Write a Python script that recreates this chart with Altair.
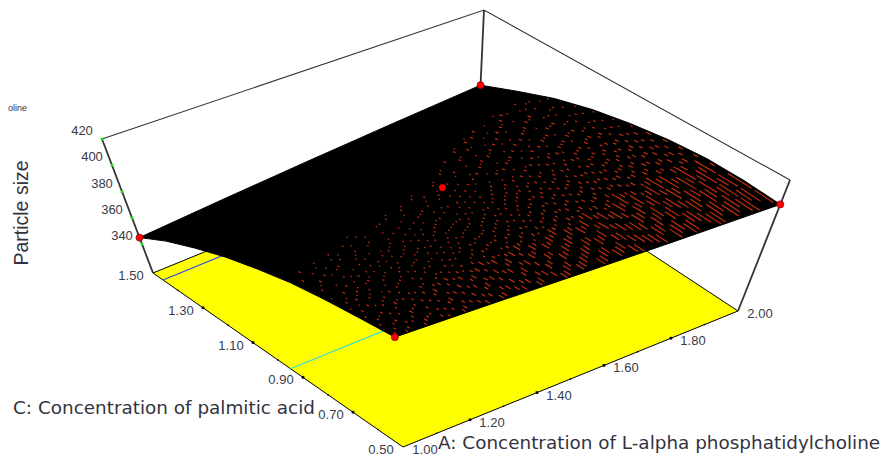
import altair as alt
import pandas as pd
import numpy as np

# ---- chart values ----
A_TICKS = [1.00, 1.20, 1.40, 1.60, 1.80, 2.00]
C_TICKS = [0.50, 0.70, 0.90, 1.10, 1.30, 1.50]
Z_TICKS = [340, 360, 380, 400, 420]
A_GRID = [1.00, 1.25, 1.50, 1.75, 2.00]
C_GRID = [0.500, 0.625, 0.750, 0.875, 1.000, 1.125, 1.250, 1.375, 1.500]
Z_SURFACE = [
    [401.0, 399.0, 396.6, 393.0, 387.0, 379.7, 370.0, 358.8, 345.0],
    [401.0, 399.8, 397.5, 393.8, 388.0, 381.0, 372.0, 361.8, 349.0],
    [400.5, 401.0, 400.0, 397.0, 392.0, 385.8, 377.0, 366.0, 353.0],
    [400.5, 402.0, 402.0, 399.5, 395.0, 389.0, 381.0, 370.0, 357.0],
    [401.0, 403.0, 403.5, 401.5, 397.6, 392.0, 384.0, 373.0, 361.0],
]
DESIGN_A = [1.0, 2.0, 1.0, 2.0, 1.5]
DESIGN_C = [0.5, 0.5, 1.5, 1.5, 1.0]
DESIGN_Z = [401, 401, 345, 361, 399]
CYAN_A = [1.0, 1.5]
CYAN_C = [0.95, 0.95]
BLUE_A = [1.0, 1.5]
BLUE_C = [1.46, 1.46]
ZMIN, ZMAX = 318, 420

# mesh highlights on the surface: (A, dash length, C starts), C in thousandths
DASHES = [
    (1.025, 8, [530, 590, 645, 702, 790, 860]), (1.05, 10, [515, 560, 610, 660, 700, 745, 830, 905]),
    (1.075, 8, [535, 583, 640, 688, 733, 771, 850]), (1.10, 13, [520, 572, 628]), (1.10, 6, [671, 723, 778, 815, 880, 925]),
    (1.125, 8, [541, 596, 636, 685, 760, 795, 868]), (1.15, 10, [508, 548, 603]), (1.15, 6, [652, 694, 741, 802, 897, 940]),
    (1.175, 10, [527, 578, 631]), (1.175, 6, [716, 768, 820, 872]), (1.20, 16, [515, 566, 621]), (1.20, 6, [668, 705, 752, 781, 826, 910, 955]),
    (1.225, 13, [531, 586, 642]), (1.225, 6, [730, 791, 845]), (1.25, 16, [505, 553, 604, 650]), (1.25, 6, [690, 731, 768, 812, 857, 928, 975]),
    (1.275, 16, [528, 581, 633]), (1.275, 6, [677, 749, 798, 836, 884]), (1.30, 18, [512, 570, 618]), (1.30, 6, [662, 699, 736, 785, 820, 872, 945]),
    (1.325, 18, [533, 589, 640]), (1.325, 6, [721, 762, 808, 851, 897, 990]), (1.35, 20, [508, 552, 607, 658]), (1.35, 6, [702, 741, 770, 825, 868, 915, 1000]),
    (1.375, 21, [529, 590, 646]), (1.375, 6, [688, 730, 777, 815, 860, 934]), (1.40, 24, [516, 575, 628]), (1.40, 6, [671, 713, 752, 796, 843, 890, 951, 1012]),
    (1.425, 24, [536, 597, 650]), (1.425, 6, [695, 731, 772, 819, 862, 908, 970]), (1.45, 24, [503, 556, 615, 666]), (1.45, 6, [708, 749, 790, 838, 871, 925, 982, 1040]),
    (1.475, 26, [526, 592, 645]), (1.475, 7, [692, 735, 781, 825, 883, 945, 1028]), (1.50, 28, [512, 572, 631]), (1.50, 7, [679, 722, 768, 806, 850, 902, 945, 1010]),
    (1.525, 28, [534, 596, 652]), (1.525, 7, [698, 740, 782, 828, 872, 918, 968, 1062]), (1.55, 31, [505, 560, 618, 673]), (1.55, 7, [715, 758, 797, 842, 888, 931, 982, 1045]),
    (1.575, 31, [530, 592, 650]), (1.575, 8, [705, 748, 791, 835, 878, 922, 1005, 1102]), (1.60, 34, [514, 578, 640]), (1.60, 8, [690, 735, 776, 822, 868, 905, 958, 1020, 1085]),
    (1.625, 34, [536, 600, 660]), (1.625, 9, [712, 756, 801, 845, 892, 940, 1038, 1150]), (1.65, 36, [503, 565, 626, 682]), (1.65, 9, [726, 768, 812, 850, 898, 945, 1002, 1060, 1130]),
    (1.675, 39, [534, 598, 660]), (1.675, 10, [715, 762, 808, 853, 901, 950, 1010, 1085, 1180]), (1.70, 42, [516, 580, 645]), (1.70, 10, [697, 742, 788, 831, 875, 921, 968, 1032, 1095, 1165]),
    (1.725, 44, [536, 604, 668]), (1.725, 10, [722, 768, 812, 855, 904, 982, 1052, 1120, 1205]), (1.75, 44, [505, 570, 632, 690]), (1.75, 10, [736, 781, 823, 864, 908, 957, 1010, 1075, 1140, 1215]),
    (1.775, 47, [530, 602, 670]), (1.775, 11, [725, 774, 817, 860, 928, 984, 1040, 1098, 1160, 1240]), (1.80, 49, [512, 582, 648]), (1.80, 11, [702, 752, 797, 842, 885, 936, 988, 1048, 1110, 1190]),
    (1.825, 52, [538, 610, 680]), (1.825, 11, [735, 781, 822, 866, 912, 958, 1012, 1068, 1135, 1210]), (1.85, 55, [503, 572, 640, 700]), (1.85, 11, [750, 798, 838, 881, 930, 975, 1030, 1085, 1160, 1240]),
    (1.875, 57, [532, 608, 682]), (1.875, 12, [738, 786, 832, 880, 925, 985, 1048, 1115, 1185, 1270]), (1.90, 60, [510, 585, 655]), (1.90, 12, [712, 765, 812, 858, 905, 950, 1005, 1060, 1125, 1205]),
    (1.925, 62, [540, 618, 690]), (1.925, 14, [750, 802, 850, 898, 945, 1000]), (1.925, 6, [1055, 1112, 1175, 1250]), (1.95, 65, [505, 578, 650]), (1.95, 14, [710, 765, 815, 862, 912, 962]), (1.95, 6, [1018, 1072, 1135, 1200, 1280]),
    (1.975, 68, [535, 612, 688]), (1.975, 14, [745, 798, 845, 892, 945]), (1.975, 6, [1005, 1058, 1122, 1188, 1265]), (1.993, 65, [515, 590]), (1.993, 16, [655, 715, 770, 820, 870, 925]), (1.993, 6, [985, 1045, 1110, 1170, 1260]),
]
# rows in between; their dash length shrinks towards the crest of the surface
MID_DASHES = [
    (1.0125, 10, [512, 565, 618, 672, 741]), (1.0375, 8, [505, 552, 603, 676, 722, 812]), (1.0625, 10, [541, 598, 651, 718, 792, 878]),
    (1.0875, 10, [507, 553, 612, 659, 704, 748, 842, 901]), (1.1125, 10, [533, 585, 642, 697, 752, 806, 858]), (1.1375, 12, [516, 568, 621, 668, 718, 775, 832, 912]),
    (1.1625, 12, [538, 592, 645, 705, 756, 791, 845, 923]), (1.1875, 14, [504, 557, 608, 659, 730, 806, 858, 891]), (1.2125, 14, [541, 596, 648, 691, 738, 769, 815, 876, 942]),
    (1.2375, 15, [519, 574, 628, 672, 712, 758, 829, 868, 915, 990]), (1.2625, 16, [537, 590, 642, 688, 728, 776, 821, 872, 958]), (1.2875, 18, [506, 560, 612, 664, 708, 755, 806, 850, 908]),
    (1.3125, 18, [541, 596, 648, 683, 724, 771, 812, 862, 925, 985]), (1.3375, 20, [518, 576, 629, 678, 745, 788, 836, 881, 938]), (1.3625, 20, [536, 598, 654, 712, 755, 796, 848, 892, 962, 1018]),
    (1.3875, 22, [506, 562, 620, 670, 708, 752, 802, 838, 878, 918, 985]), (1.4125, 22, [546, 606, 660, 725, 768, 810, 852, 906, 960, 1030]), (1.4375, 24, [522, 582, 640, 688, 731, 778, 828, 868, 945]),
    (1.4625, 25, [508, 570, 628, 682, 726, 770, 812, 858, 898, 952, 1005, 1058]), (1.4875, 26, [540, 602, 660, 708, 752, 796, 838, 878, 922, 992]), (1.5125, 28, [520, 582, 642, 698, 742, 788, 830, 872, 935, 988, 1032]),
    (1.5375, 28, [548, 610, 666, 720, 765, 808, 852, 902, 950, 1002, 1078]), (1.5625, 30, [512, 575, 636, 692, 736, 780, 818, 862, 905, 965, 1025]), (1.5875, 32, [540, 604, 668, 722, 766, 812, 856, 895, 942, 995, 1065, 1118]),
    (1.6125, 34, [522, 590, 652, 708, 752, 796, 842, 886, 928, 980, 1048]), (1.6375, 36, [508, 574, 638, 696, 745, 788, 832, 875, 918, 968, 1020, 1092]), (1.6625, 38, [548, 615, 676, 732, 778, 822, 868, 912, 965, 1018, 1075, 1145]),
    (1.6875, 40, [524, 592, 656, 712, 755, 800, 842, 888, 938, 992, 1050, 1122, 1198]), (1.7125, 42, [505, 575, 640, 702, 748, 795, 842, 885, 935, 985, 1042, 1108, 1170]), (1.7375, 44, [546, 618, 682, 738, 788, 832, 878, 925, 972, 1030, 1090, 1155, 1228]),
    (1.7625, 46, [520, 592, 660, 718, 766, 812, 858, 905, 952, 1005, 1062, 1128, 1192]), (1.7875, 48, [504, 578, 650, 712, 762, 808, 852, 898, 950, 1002, 1068, 1132, 1210]), (1.8125, 50, [545, 622, 692, 748, 798, 842, 888, 935, 985, 1040, 1098, 1178, 1252]),
    (1.8375, 52, [522, 600, 672, 730, 780, 825, 872, 918, 968, 1022, 1080, 1148, 1222]), (1.8625, 55, [505, 585, 660, 722, 772, 820, 865, 912, 962, 1018, 1075, 1138, 1215, 1285]), (1.8875, 58, [546, 625, 698, 758, 808, 858, 905, 952, 1002, 1060, 1122, 1192, 1268]),
    (1.9125, 60, [522, 602, 678, 740, 792, 842, 888, 938, 990, 1045, 1105, 1175, 1255]), (1.9375, 62, [512, 592, 672, 735, 785, 835, 882, 930, 985, 1040, 1098, 1165, 1235, 1302]), (1.9625, 64, [548, 628, 702, 765, 812, 860, 908, 958, 1012, 1068, 1130, 1205, 1285]),
]
TAPER_C = [500, 600, 750, 900, 1100, 1300]
TAPER_F = [1.0, 0.7, 0.32, 0.18, 0.11, 0.09]

# ---- oblique view of the box: corners of the 3-D frame as seen on the page ----
FLOOR = {(0, 0): (395, 439), (1, 0): (730, 303), (0, 1): (145, 265), (1, 1): (470, 132)}
ROOF = {(0, 0): (385, 304), (1, 0): (782, 172), (0, 1): (94, 131), (1, 1): (476, 2)}
W, H = 875, 450


def project(a, c, z):
    u, v, w = a - 1.0, c - 0.5, (z - ZMIN) / (ZMAX - ZMIN)
    out = []
    for i in (0, 1):
        val = 0.0
        for (p, q), fl in FLOOR.items():
            rf = ROOF[(p, q)]
            weight = (u if p else 1 - u) * (v if q else 1 - v)
            val += weight * ((1 - w) * fl[i] + w * rf[i])
        out.append(val)
    return out


def surf(a, c):
    col = [np.interp(a, A_GRID, [r[j] for r in Z_SURFACE]) for j in range(len(C_GRID))]
    return float(np.interp(c, C_GRID, col))


def frame(triples):
    pts = [project(*t) for t in triples]
    return pd.DataFrame({"x": [p[0] for p in pts], "y": [p[1] for p in pts], "o": range(len(pts))})


X = alt.X("x:Q", scale=alt.Scale(domain=[0, W], range=[0, W]), axis=None)
Y = alt.Y("y:Q", scale=alt.Scale(domain=[0, H], range=[0, H]), axis=None)


def path(triples, color="black", width=1.0, fill=None):
    kw = {"fill": fill} if fill else {}
    return alt.Chart(frame(triples)).mark_line(color=color, strokeWidth=width, **kw).encode(x=X, y=Y, order="o:Q")


zl, zh = ZMIN, ZMAX
floor = path([(1, .5, zl), (2, .5, zl), (2, 1.5, zl), (1, 1.5, zl), (1, .5, zl)], fill="#ffff00")
cyan = path([(a, c, zl) for a, c in zip(CYAN_A, CYAN_C)], color="#30e0d0", width=1.2)
blue = path([(a, c, zl) for a, c in zip(BLUE_A, BLUE_C)], color="#3050d8", width=1.2)
walls = [
    path([(1, 1.5, zh), (2, 1.5, zh), (2, .5, zh)], color="#333333", width=1.1),
    path([(1, 1.5, zh), (1, 1.5, zl)], color="#333333", width=1.8),
    path([(2, .5, zh), (2, .5, zl)], color="#333333", width=1.8),
    path([(2, 1.5, zh), (2, 1.5, zl)], color="#333333", width=1.8),
]
outline = [(a, .5, surf(a, .5)) for a in A_GRID]
outline += [(2.0, c, surf(2.0, c)) for c in C_GRID[1:]]
outline += [(a, 1.5, surf(a, 1.5)) for a in A_GRID[::-1][1:]]
outline += [(1.0, c, surf(1.0, c)) for c in C_GRID[::-1][1:]]
surface = path(outline, fill="black")

rows = []


def add_dash(a, s, ln):
    c1, c2 = s / 1000, min((s + ln) / 1000, 1.5)
    p1, p2 = project(a, c1, surf(a, c1)), project(a, c2, surf(a, c2))
    rows.append({"x": p1[0], "y": p1[1], "x2": p2[0], "y2": p2[1]})


for a, ln, starts in DASHES:
    for s in starts:
        add_dash(a, s, ln)
for a, ln, starts in MID_DASHES:
    for s in starts:
        add_dash(a, s, max(5, ln * float(np.interp(s, TAPER_C, TAPER_F))))
dashes = alt.Chart(pd.DataFrame(rows)).mark_rule(color="#d0300c", strokeWidth=1.1).encode(x=X, y=Y, x2="x2:Q", y2="y2:Q")

design = alt.Chart(frame(list(zip(DESIGN_A, DESIGN_C, DESIGN_Z)))).mark_point(
    shape="circle", filled=True, color="#ff0000", size=52, opacity=1, stroke="#220000", strokeWidth=0.4
).encode(x=X, y=Y)


def labels(triples, texts, dx, dy):
    d = frame(triples)
    d["t"] = texts
    return alt.Chart(d).mark_text(font="Liberation Sans", fontSize=13, color="#3a3a48", dx=dx, dy=dy, align="center", baseline="middle").encode(x=X, y=Y, text="t:N")


def ticks(triples, color, size):
    return alt.Chart(frame(triples)).mark_point(shape="square", filled=True, color=color, size=size, opacity=1).encode(x=X, y=Y)


a_minor = [1.1, 1.2, 1.3, 1.4, 1.5, 1.6, 1.7, 1.8, 1.9]
c_minor = [0.6, 0.7, 0.8, 0.9, 1.0, 1.1, 1.2, 1.3, 1.4]
tick_layers = [
    ticks([(a, .5, zl) for a in [1.2, 1.4, 1.6, 1.8]], "black", 7),
    ticks([(1.0, c, zl) for c in [0.7, 0.9, 1.1, 1.3]], "black", 7),
    ticks([(a, .5, zl) for a in a_minor], "black", 2),
    ticks([(1.0, c, zl) for c in c_minor], "black", 2),
    ticks([(1, 1.5, z) for z in Z_TICKS], "#10e010", 7),
]
text_layers = [
    labels([(a, .5, zl) for a in A_TICKS], [f"{a:.2f}" for a in A_TICKS], 22, 3),
    labels([(1.0, c, zl) for c in C_TICKS], [f"{c:.2f}" for c in C_TICKS], -22, 3),
    labels([(1, 1.5, z) for z in Z_TICKS], [str(z) for z in Z_TICKS], -20, -8),
]


def title(text, x, y, size=18.4, angle=0, align="left", font="DejaVu Sans"):
    return alt.Chart(pd.DataFrame({"t": [text]})).mark_text(
        font=font, fontSize=size, color="#33333f", align=align, baseline="middle", angle=angle
    ).encode(x=alt.value(x - 8), y=alt.value(y - 8), text="t:N")


titles = [
    title("C: Concentration of palmitic acid", 13, 408),
    title("A: Concentration of L-alpha phosphatidylcholine", 438, 443),
    title("Particle size", 22, 213, size=19.5, angle=270, align="center", font="Liberation Sans"),
    title("oline", 8, 108, size=9, font="Liberation Sans"),
]

chart = alt.layer(floor, cyan, blue, *walls, surface, dashes, design, *tick_layers, *text_layers, *titles).properties(
    width=W, height=H, padding=0, autosize="none"
).configure_view(stroke=None)

chart.save("out.html", embed_options={"renderer": "svg", "actions": False})
